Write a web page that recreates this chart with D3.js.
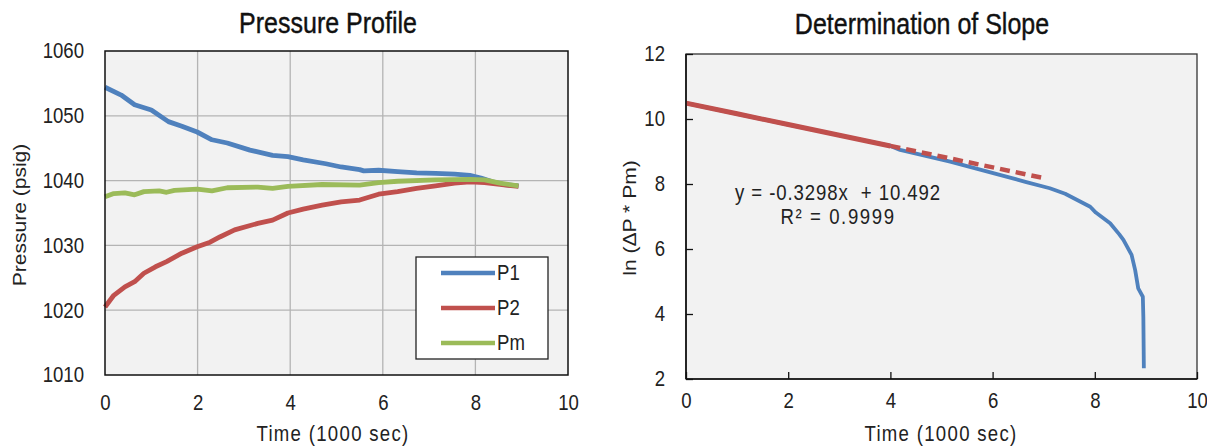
<!DOCTYPE html>
<html>
<head>
<meta charset="utf-8">
<script src="https://cdn.jsdelivr.net/npm/d3@7"></script>
<style>
  body { margin: 0; background: #fff; }
  text { font-family: "Liberation Sans", Arial, sans-serif; fill: #222; white-space: pre; }
</style>
</head>
<body>
<svg id="chart" width="1207" height="448"></svg>
<script>
// ---- left chart: pressure profile (time in 1000 sec, pressure in psig)
var p1Time = [0, 0.35, 0.64, 1.0, 1.37, 1.66, 1.99, 2.31, 2.64, 3.13, 3.62, 3.95, 4.28, 4.77, 5.10, 5.50, 5.59, 5.91, 6.32, 6.73, 7.14, 7.55, 7.88, 8.12, 8.37, 8.61, 8.93];
var p1Vals = [1054.4, 1053.2, 1051.7, 1050.9, 1049.1, 1048.4, 1047.5, 1046.3, 1045.8, 1044.7, 1043.9, 1043.7, 1043.2, 1042.6, 1042.1, 1041.7, 1041.5, 1041.6, 1041.4, 1041.2, 1041.1, 1041.0, 1040.8, 1040.4, 1039.8, 1039.4, 1039.2];

var p2Time = [0, 0.19, 0.43, 0.64, 0.84, 1.09, 1.33, 1.66, 1.99, 2.27, 2.48, 2.80, 3.30, 3.62, 3.95, 4.28, 4.69, 5.10, 5.50, 5.91, 6.32, 6.73, 7.14, 7.55, 7.88, 8.20, 8.53, 8.93];
var p2Vals = [1020.5, 1022.3, 1023.6, 1024.4, 1025.7, 1026.7, 1027.5, 1028.8, 1029.8, 1030.5, 1031.3, 1032.4, 1033.4, 1033.9, 1035.0, 1035.6, 1036.2, 1036.7, 1037.0, 1037.9, 1038.3, 1038.8, 1039.2, 1039.6, 1039.8, 1039.7, 1039.4, 1039.1];

var pmTime = [0, 0.19, 0.43, 0.64, 0.84, 1.17, 1.33, 1.50, 1.99, 2.31, 2.64, 3.30, 3.62, 3.95, 4.69, 5.50, 5.91, 6.32, 7.14, 7.88, 8.20, 8.53, 8.93];
var pmVals = [1037.5, 1038.0, 1038.1, 1037.8, 1038.3, 1038.4, 1038.2, 1038.5, 1038.7, 1038.4, 1038.9, 1039.0, 1038.8, 1039.1, 1039.4, 1039.3, 1039.7, 1039.9, 1040.1, 1040.2, 1040.1, 1039.6, 1039.2];

var seriesNames = ["P1", "P2", "Pm"];
var pTicks = [1010, 1020, 1030, 1040, 1050, 1060];
var tTicks = [0, 2, 4, 6, 8, 10];

// ---- right chart: ln(dP * Pm) vs time
var lnTime = [0, 1, 2, 3, 4, 4.19, 5.17, 6.14, 6.66, 7.12, 7.42, 7.91, 8.02, 8.30, 8.48, 8.56, 8.72, 8.79, 8.85, 8.94, 8.95, 8.96];
var lnVals = [10.49, 10.16, 9.83, 9.50, 9.17, 9.05, 8.69, 8.28, 8.06, 7.87, 7.70, 7.30, 7.12, 6.79, 6.45, 6.28, 5.82, 5.35, 4.79, 4.53, 3.92, 2.33];

// linear region used for the fit (drawn in red)
var fitTime = [0, 1, 2, 3, 4];
var fitVals = [10.49, 10.16, 9.83, 9.50, 9.17];

// trendline y = -0.3298x + 10.492, drawn dashed out to x = 7
var trendTime = [4, 7];
var trendVals = [9.173, 8.183];
var trendLabel = ["y = -0.3298x  + 10.492", "R\u00b2 = 0.9999"];
var lnTicks = [2, 4, 6, 8, 10, 12];

var blue = "#4f81bd", red = "#c0504d", green = "#9bbb59";
var svg = d3.select("#chart");

// text in the source image is stretched a little vertically
var STRETCH = 1.15;
function label(x, y, str, size, anchor, rot, fill, spacing) {
  return svg.append("text")
    .attr("transform", "translate(" + x + "," + y + ") scale(1," + STRETCH + ")" + (rot ? " rotate(-90)" : ""))
    .style("font-size", size + "px")
    .style("text-anchor", anchor || "middle")
    .style("letter-spacing", (spacing || 0) + "px")
    .style("fill", fill || "#222")
    .text(str);
}
function stretchTicks(g) {
  g.selectAll(".tick text")
    .attr("transform", "scale(1," + STRETCH + ")")
    .style("font-size", "18.6px")
    .style("font-family", "Liberation Sans, Arial, sans-serif")
    .attr("fill", "#222");
  g.select(".domain").remove();
}

// ================= left chart =================
var x1 = d3.scaleLinear().domain([0, 10]).range([105, 568]);
var y1 = d3.scaleLinear().domain([1010, 1060]).range([375, 51]);

svg.append("rect")
  .attr("x", x1(0)).attr("y", y1(1060))
  .attr("width", x1(10) - x1(0)).attr("height", y1(1010) - y1(1060))
  .attr("fill", "#f2f2f2");

// gridlines
svg.append("g").selectAll("line").data(tTicks.slice(1, -1)).enter().append("line")
  .attr("x1", d => x1(d)).attr("x2", d => x1(d))
  .attr("y1", y1(1060)).attr("y2", y1(1010))
  .attr("stroke", "#b4b4b4").attr("stroke-width", 1.3);
svg.append("g").selectAll("line").data(pTicks.slice(1, -1)).enter().append("line")
  .attr("y1", d => y1(d)).attr("y2", d => y1(d))
  .attr("x1", x1(0)).attr("x2", x1(10))
  .attr("stroke", "#b4b4b4").attr("stroke-width", 1.3);

var line1 = d3.line().x(d => x1(d[0])).y(d => y1(d[1])).curve(d3.curveLinear);
var leftSeries = [
  { name: seriesNames[0], color: blue, pts: d3.zip(p1Time, p1Vals) },
  { name: seriesNames[1], color: red, pts: d3.zip(p2Time, p2Vals) },
  { name: seriesNames[2], color: green, pts: d3.zip(pmTime, pmVals) }
];
leftSeries.forEach(function(s) {
  svg.append("path").datum(s.pts)
    .attr("d", line1)
    .attr("fill", "none")
    .attr("stroke", s.color)
    .attr("stroke-width", 4.8)
    .attr("stroke-linejoin", "round");
});

svg.append("rect")
  .attr("x", x1(0)).attr("y", y1(1060))
  .attr("width", x1(10) - x1(0)).attr("height", y1(1010) - y1(1060))
  .attr("fill", "none").attr("stroke", "#111").attr("stroke-width", 1.5);

svg.append("g").attr("transform", "translate(" + x1(0) + ",0)")
  .call(d3.axisLeft(y1).tickValues(pTicks).tickSize(0).tickPadding(21).tickFormat(d3.format("d")))
  .call(stretchTicks);
svg.append("g").attr("transform", "translate(0," + y1(1010) + ")")
  .call(d3.axisBottom(x1).tickValues(tTicks).tickSize(0).tickPadding(17))
  .call(stretchTicks);

// legend
var leg = svg.append("g");
leg.append("rect").attr("x", 416).attr("y", 257).attr("width", 132).attr("height", 102)
  .attr("fill", "#fff").attr("stroke", "#222").attr("stroke-width", 1.3);
leftSeries.forEach(function(s, i) {
  var ly = 273 + i * 35;
  leg.append("line").attr("x1", 441).attr("x2", 495).attr("y1", ly).attr("y2", ly)
    .attr("stroke", s.color).attr("stroke-width", 4.5);
  label(497, ly + 7, s.name, 18.6, "start");
});

label(328, 33, "Pressure Profile", 25, "middle", false, "#111")
  .style("stroke", "#111").style("stroke-width", 0.35);
label(333, 441, "Time (1000 sec)", 18.6, "middle", false, "#222", 1.3);
label(26, 215, "Pressure (psig)", 18.3, "middle", true);

// ================= right chart =================
var x2 = d3.scaleLinear().domain([0, 10]).range([686, 1197]);
var y2 = d3.scaleLinear().domain([2, 12]).range([379, 54]);

svg.append("rect")
  .attr("x", x2(0)).attr("y", y2(12))
  .attr("width", x2(10) - x2(0)).attr("height", y2(2) - y2(12))
  .attr("fill", "#f2f2f2").attr("stroke", "#333").attr("stroke-width", 1.3);

var line2 = d3.line().x(d => x2(d[0])).y(d => y2(d[1]));
svg.append("path").datum(d3.zip(lnTime, lnVals))
  .attr("d", line2).attr("fill", "none")
  .attr("stroke", blue).attr("stroke-width", 3.8).attr("stroke-linejoin", "round");
svg.append("path").datum(d3.zip(trendTime, trendVals))
  .attr("d", line2).attr("fill", "none")
  .attr("stroke", red).attr("stroke-width", 4.5).attr("stroke-dasharray", "10,6");
svg.append("path").datum(d3.zip(fitTime, fitVals))
  .attr("d", line2).attr("fill", "none")
  .attr("stroke", red).attr("stroke-width", 5);

// axis lines (left and bottom, black)
svg.append("line").attr("x1", x2(0)).attr("x2", x2(0)).attr("y1", y2(12)).attr("y2", y2(2))
  .attr("stroke", "#111").attr("stroke-width", 1.6);
svg.append("line").attr("x1", x2(0)).attr("x2", x2(10)).attr("y1", y2(2)).attr("y2", y2(2))
  .attr("stroke", "#111").attr("stroke-width", 1.6);

var ay2 = svg.append("g").attr("transform", "translate(" + x2(0) + ",0)")
  .call(d3.axisLeft(y2).tickValues(lnTicks).tickSizeInner(-7).tickSizeOuter(0).tickPadding(21))
  .call(stretchTicks);
ay2.selectAll(".tick line").attr("stroke", "#111").attr("stroke-width", 1.3);
var ax2 = svg.append("g").attr("transform", "translate(0," + y2(2) + ")")
  .call(d3.axisBottom(x2).tickValues(tTicks).tickSizeInner(-7).tickSizeOuter(0).tickPadding(12))
  .call(stretchTicks);
ax2.selectAll(".tick line").attr("stroke", "#111").attr("stroke-width", 1.3);

label(838, 200, trendLabel[0], 18.6, "middle", false, "#222", 0.9);
label(838, 224, trendLabel[1], 18.6, "middle", false, "#222", 1.6);

label(922, 34, "Determination of Slope", 25, "middle", false, "#111")
  .style("stroke", "#111").style("stroke-width", 0.35);
label(941, 441, "Time (1000 sec)", 18.6, "middle", false, "#222", 1.3);
label(636, 218, "ln (\u0394P * Pm)", 18.3, "middle", true);
</script>
</body>
</html>
